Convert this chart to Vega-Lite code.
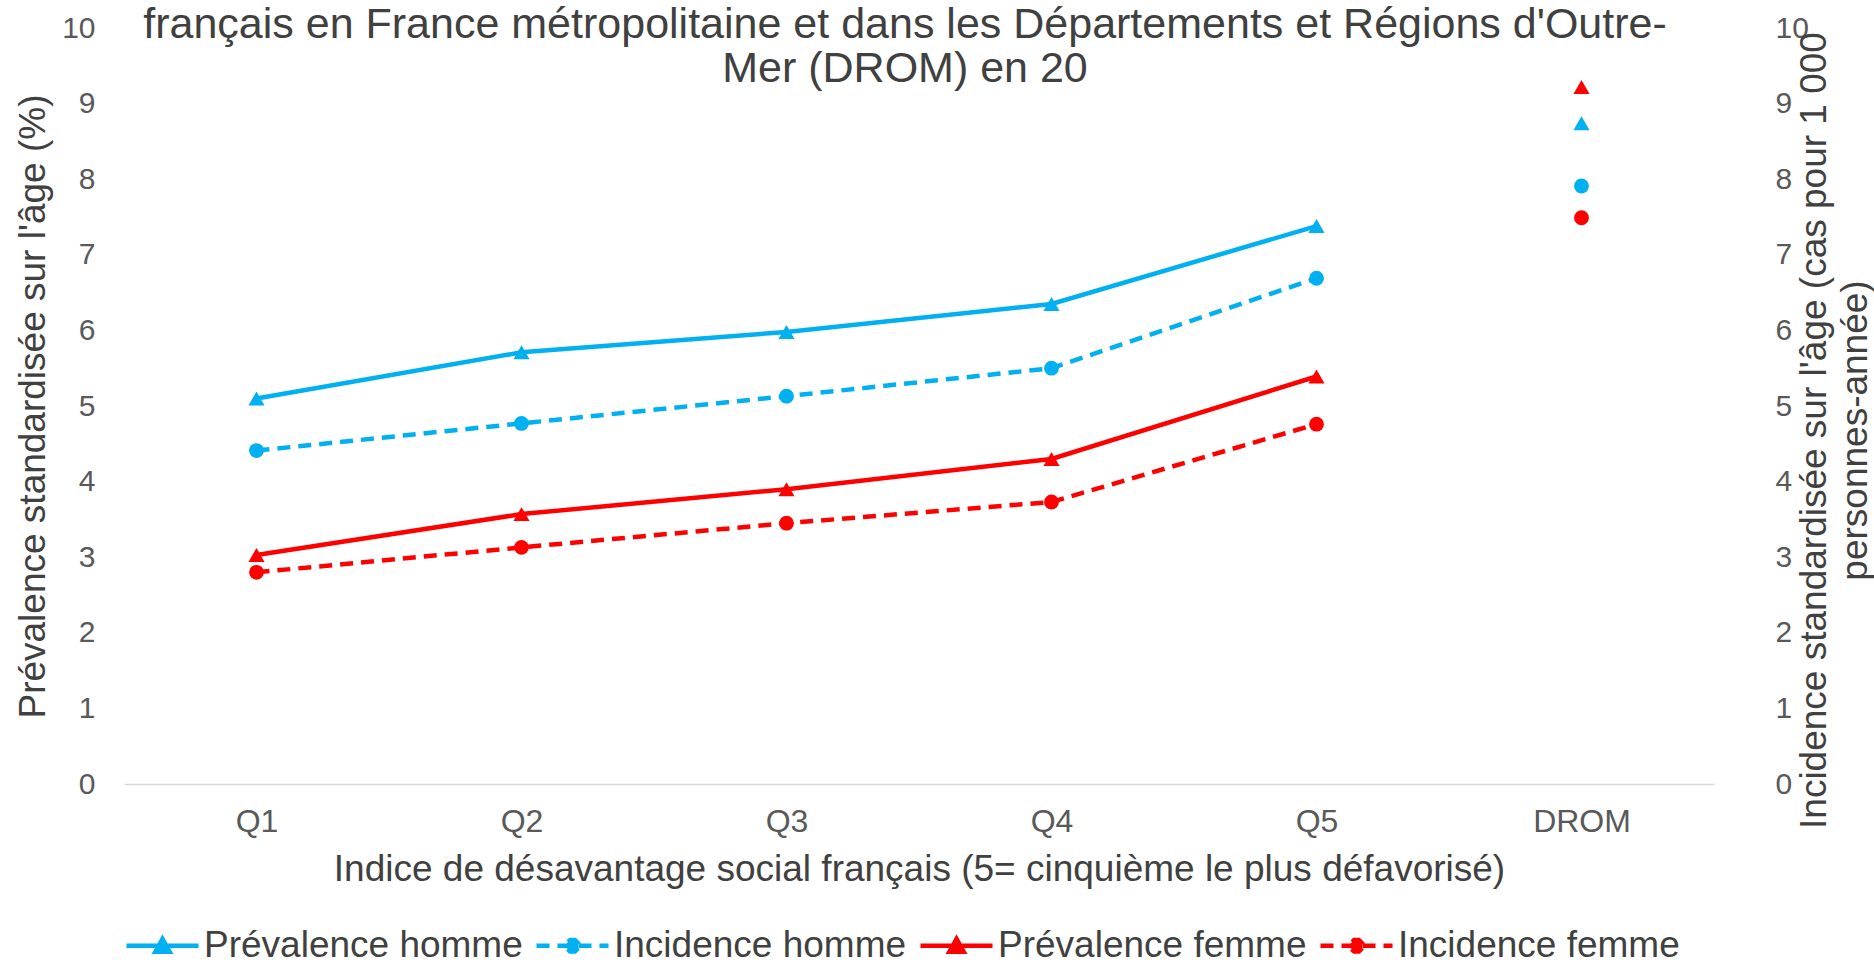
{
  "$schema": "https://vega.github.io/schema/vega-lite/v6.json",
  "width": 1590,
  "height": 756,
  "autosize": {"type": "none"},
  "padding": {"left": 124, "top": 28, "right": 160, "bottom": 182},
  "background": "white",
  "config": {"font": "Liberation Sans", "view": {"stroke": null}},
  "title": {
    "text": ["français en France métropolitaine et dans les Départements et Régions d'Outre-", "Mer (DROM) en 20"],
    "fontSize": 43, "fontWeight": "normal", "color": "#404040", "lineHeight": 44,
    "anchor": "middle", "frame": "group", "baseline": "middle", "offset": 0, "dy": 99, "dx": -14
  },
  "data": {"values": [
    {"q": "Q1", "serie": "Prévalence homme", "kind": "P", "sex": "h", "value": 5.10},
    {"q": "Q2", "serie": "Prévalence homme", "kind": "P", "sex": "h", "value": 5.71},
    {"q": "Q3", "serie": "Prévalence homme", "kind": "P", "sex": "h", "value": 5.98},
    {"q": "Q4", "serie": "Prévalence homme", "kind": "P", "sex": "h", "value": 6.35},
    {"q": "Q5", "serie": "Prévalence homme", "kind": "P", "sex": "h", "value": 7.38},
    {"q": "DROM", "serie": "Prévalence homme", "kind": "P", "sex": "h", "value": 8.74},
    {"q": "Q1", "serie": "Incidence homme", "kind": "I", "sex": "h", "value": 4.41},
    {"q": "Q2", "serie": "Incidence homme", "kind": "I", "sex": "h", "value": 4.77},
    {"q": "Q3", "serie": "Incidence homme", "kind": "I", "sex": "h", "value": 5.13},
    {"q": "Q4", "serie": "Incidence homme", "kind": "I", "sex": "h", "value": 5.50},
    {"q": "Q5", "serie": "Incidence homme", "kind": "I", "sex": "h", "value": 6.69},
    {"q": "DROM", "serie": "Incidence homme", "kind": "I", "sex": "h", "value": 7.91},
    {"q": "Q1", "serie": "Prévalence femme", "kind": "P", "sex": "f", "value": 3.03},
    {"q": "Q2", "serie": "Prévalence femme", "kind": "P", "sex": "f", "value": 3.57},
    {"q": "Q3", "serie": "Prévalence femme", "kind": "P", "sex": "f", "value": 3.90},
    {"q": "Q4", "serie": "Prévalence femme", "kind": "P", "sex": "f", "value": 4.30},
    {"q": "Q5", "serie": "Prévalence femme", "kind": "P", "sex": "f", "value": 5.39},
    {"q": "DROM", "serie": "Prévalence femme", "kind": "P", "sex": "f", "value": 9.22},
    {"q": "Q1", "serie": "Incidence femme", "kind": "I", "sex": "f", "value": 2.80},
    {"q": "Q2", "serie": "Incidence femme", "kind": "I", "sex": "f", "value": 3.13},
    {"q": "Q3", "serie": "Incidence femme", "kind": "I", "sex": "f", "value": 3.45},
    {"q": "Q4", "serie": "Incidence femme", "kind": "I", "sex": "f", "value": 3.73},
    {"q": "Q5", "serie": "Incidence femme", "kind": "I", "sex": "f", "value": 4.76},
    {"q": "DROM", "serie": "Incidence femme", "kind": "I", "sex": "f", "value": 7.49}
  ]},
  "resolve": {"scale": {"y": "independent"}},
  "layer": [
    {
      "transform": [{"filter": "datum.kind === 'P'"}],
      "encoding": {
        "x": {"field": "q", "type": "nominal", "sort": ["Q1", "Q2", "Q3", "Q4", "Q5", "DROM"],
          "scale": {"type": "point", "padding": 0.5},
          "axis": {"title": "Indice de désavantage social français (5= cinquième le plus défavorisé)",
            "labelAngle": 0, "labelFontSize": 32, "labelColor": "#595959", "labelPadding": 22,
            "ticks": false, "tickSize": 0, "grid": false, "domain": true, "domainColor": "#D9D9D9", "domainWidth": 1.5,
            "titleFontSize": 37, "titleFontWeight": "normal", "titleColor": "#404040",
            "titleX": 795, "titleY": 85, "titleBaseline": "middle", "titleAlign": "center"}},
        "y": {"field": "value", "type": "quantitative", "scale": {"domain": [0, 10], "nice": false},
          "axis": {"orient": "left", "values": [0,1,2,3,4,5,6,7,8,9,10], "title": "Prévalence standardisée sur l'âge (%)",
            "labelFontSize": 30, "labelColor": "#595959", "labelPadding": 29, "ticks": false, "tickSize": 0,
            "grid": false, "domain": false,
            "titleFontSize": 37, "titleFontWeight": "normal", "titleColor": "#404040",
            "titleAngle": 270, "titleX": -91, "titleY": 378, "titleBaseline": "middle", "titleAlign": "center"}},
        "color": {"field": "sex", "type": "nominal",
          "scale": {"domain": ["h", "f"], "range": ["#00B0F0", "#FF0000"]},
          "legend": null}
      },
      "layer": [
        {"transform": [{"filter": "datum.q !== 'DROM'"}],
         "mark": {"type": "line", "strokeWidth": 4.5}},
        {"mark": {"type": "point", "shape": "triangle-up", "filled": true, "size": 260, "opacity": 1}}
      ]
    },
    {
      "transform": [{"filter": "datum.kind === 'I'"}],
      "encoding": {
        "x": {"field": "q", "type": "nominal", "sort": ["Q1", "Q2", "Q3", "Q4", "Q5", "DROM"],
          "scale": {"type": "point", "padding": 0.5},
          "axis": {"title": "Indice de désavantage social français (5= cinquième le plus défavorisé)",
            "labelAngle": 0, "labelFontSize": 32, "labelColor": "#595959", "labelPadding": 22,
            "ticks": false, "tickSize": 0, "grid": false, "domain": true, "domainColor": "#D9D9D9", "domainWidth": 1.5,
            "titleFontSize": 37, "titleFontWeight": "normal", "titleColor": "#404040",
            "titleX": 795, "titleY": 85, "titleBaseline": "middle", "titleAlign": "center"}},
        "y": {"field": "value", "type": "quantitative", "scale": {"domain": [0, 10], "nice": false},
          "axis": {"orient": "right", "values": [0,1,2,3,4,5,6,7,8,9,10],
            "title": ["Incidence standardisée sur l'âge (cas pour 1 000", "personnes-année)"],
            "labelFontSize": 30, "labelColor": "#595959", "labelPadding": 61, "ticks": false, "tickSize": 0,
            "grid": false, "domain": false,
            "titleFontSize": 37, "titleFontWeight": "normal", "titleColor": "#404040", "titleLineHeight": 41,
            "titleAngle": 270, "titleX": 100, "titleY": 402, "titleBaseline": "middle", "titleAlign": "center"}},
        "color": {"field": "sex", "type": "nominal",
          "scale": {"domain": ["h", "f"], "range": ["#00B0F0", "#FF0000"]},
          "legend": null}
      },
      "layer": [
        {"transform": [{"filter": "datum.q !== 'DROM'"}],
         "mark": {"type": "line", "strokeWidth": 4.5, "strokeDash": [13, 8]}},
        {"mark": {"type": "point", "shape": "circle", "filled": true, "size": 220, "opacity": 1}}
      ]
    },
    {
      "mark": {"type": "point", "opacity": 0, "strokeWidth": 4.5},
      "encoding": {
        "fill": {"field": "serie", "type": "nominal",
          "scale": {"domain": ["Prévalence homme", "Incidence homme", "Prévalence femme", "Incidence femme"],
                    "range": ["#00B0F0", "#00B0F0", "#FF0000", "#FF0000"]},
          "legend": {"title": null, "orient": "none", "legendX": 0, "legendY": 879, "direction": "horizontal", "columns": 4,
            "padding": 0, "columnPadding": 4, "labelOffset": 3, "labelFontSize": 37, "labelColor": "#404040", "labelLimit": 2000,
            "symbolSize": 5184, "symbolStrokeWidth": 4.5,
            "encode": {"symbols": {"update": {"opacity": {"value": 1}, "fillOpacity": {"value": 1}, "strokeOpacity": {"value": 1}, "strokeWidth": {"value": 4.5}}}}}},
        "stroke": {"field": "serie", "type": "nominal",
          "scale": {"domain": ["Prévalence homme", "Incidence homme", "Prévalence femme", "Incidence femme"],
                    "range": ["#00B0F0", "#00B0F0", "#FF0000", "#FF0000"]},
          "legend": {"title": null, "orient": "none", "legendX": 0, "legendY": 879, "direction": "horizontal", "columns": 4,
            "padding": 0, "columnPadding": 4, "labelOffset": 3, "labelFontSize": 37, "labelColor": "#404040", "labelLimit": 2000,
            "symbolSize": 5184, "symbolStrokeWidth": 4.5}},
        "shape": {"field": "serie", "type": "nominal",
          "scale": {"domain": ["Prévalence homme", "Incidence homme", "Prévalence femme", "Incidence femme"],
                    "range": ["M-1,0L1,0M-0.2,0.17L0,-0.19L0.2,0.17Z",
                              "M-1,0L1,0M0.16,0.066L0.066,0.16L-0.066,0.16L-0.16,0.066L-0.16,-0.066L-0.066,-0.16L0.066,-0.16L0.16,-0.066Z",
                              "M-1,0L1,0M-0.2,0.17L0,-0.19L0.2,0.17Z",
                              "M-1,0L1,0M0.16,0.066L0.066,0.16L-0.066,0.16L-0.16,0.066L-0.16,-0.066L-0.066,-0.16L0.066,-0.16L0.16,-0.066Z"]},
          "legend": {"title": null, "orient": "none", "legendX": 0, "legendY": 879, "direction": "horizontal", "columns": 4,
            "padding": 0, "columnPadding": 4, "labelOffset": 3, "labelFontSize": 37, "labelColor": "#404040", "labelLimit": 2000,
            "symbolSize": 5184, "symbolStrokeWidth": 4.5}},
        "strokeDash": {"field": "serie", "type": "nominal",
          "scale": {"domain": ["Prévalence homme", "Incidence homme", "Prévalence femme", "Incidence femme"],
                    "range": [[1, 0], [13, 8], [1, 0], [13, 8]]},
          "legend": {"title": null, "orient": "none", "legendX": 0, "legendY": 879, "direction": "horizontal", "columns": 4,
            "padding": 0, "columnPadding": 4, "labelOffset": 3, "labelFontSize": 37, "labelColor": "#404040", "labelLimit": 2000,
            "symbolSize": 5184, "symbolStrokeWidth": 4.5}}
      }
    }
  ]
}
